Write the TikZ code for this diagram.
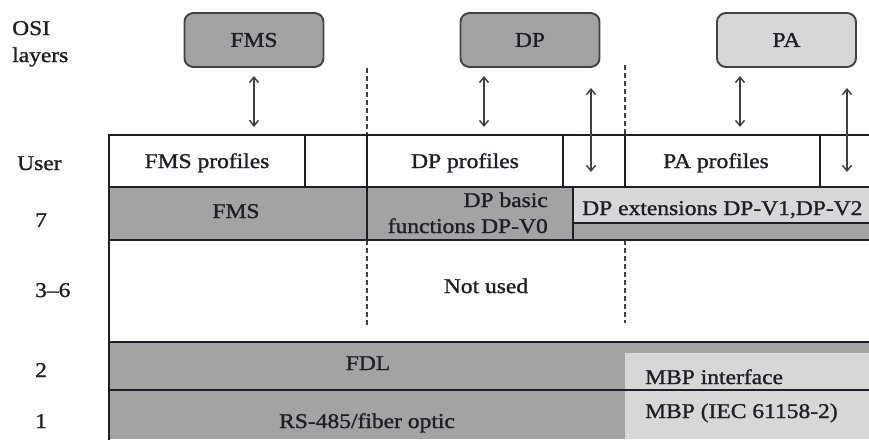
\documentclass[tikz,border=0pt]{standalone}
\usepackage{fontspec}
\setmainfont{Liberation Serif}[FakeStretch=1.12, FakeBold=1.2]
\usetikzlibrary{arrows.meta}

\definecolor{darkfill}{HTML}{A3A3A3}
\definecolor{lightfill}{HTML}{D7D7D7}
\definecolor{ink}{HTML}{1E1E28}

\begin{document}
\begin{tikzpicture}[x=1pt,y=-1pt,
  every node/.style={font=\fontsize{21}{26}\selectfont, text=ink, inner sep=0pt},
  rule/.style={draw=ink, line width=1.9pt},
  thinrule/.style={draw=ink, line width=1.4pt},
  guide/.style={draw=ink!85, line width=1.8pt, dash pattern=on 5pt off 3pt},
  topbox/.style={draw=ink!85, line width=1.9pt, rounded corners=9pt,
                 minimum width=139pt, minimum height=54pt},
  link/.style={draw=ink!85, line width=1.5pt,
               {Straight Barb[length=5.5pt,width=9pt]}-{Straight Barb[length=5.5pt,width=9pt]}},
  lbl/.style={anchor=base west},
  ctr/.style={anchor=base},
]
\useasboundingbox (0,0) rectangle (869,439);
\clip (0,0) rectangle (869,439);
\fill[white] (0,0) rectangle (869,439);

% --- shaded layer areas
\fill[darkfill] (109,187) rectangle (573,240);
\fill[lightfill] (573,187) rectangle (875,223);
\fill[darkfill] (573,223) rectangle (875,240);
\fill[darkfill] (109,342) rectangle (875,439);
\fill[lightfill] (625,353) rectangle (875,439);

% --- profile separators (dashed outside the table)
\draw[guide] (367,68) -- (367,135);
\draw[guide] (367,240) -- (367,327);
\draw[guide] (625,65) -- (625,135);
\draw[guide] (625,240) -- (625,323);

% --- table grid
\draw[rule] (109,135) -- (875,135);
\draw[rule] (109,187) -- (875,187);
\draw[rule] (109,240) -- (875,240);
\draw[rule] (109,342) -- (875,342);
\draw[rule] (109,390) -- (875,390);
\draw[rule] (109,134.1) -- (109,440);
\draw[rule] (305,135) -- (305,187);
\draw[rule] (367,135) -- (367,240);
\draw[rule] (563,135) -- (563,187);
\draw[rule] (625,135) -- (625,187);
\draw[rule] (820,135) -- (820,187);
\draw[rule] (573,187) -- (573,240);
\draw[thinrule] (573,223) -- (875,223);

% --- application boxes
\node[topbox, fill=darkfill] (fms) at (254,40) {FMS};
\node[topbox, fill=darkfill] (dp) at (530,40) {DP};
\node[topbox, fill=lightfill] (pa) at (786.5,40) {PA};

% --- arrow end points
\coordinate (fmsIn) at (254,127);
\coordinate (dpIn) at (484,127);
\coordinate (paIn) at (740,127);
\coordinate (dpTop) at (591,88);
\coordinate (dpBot) at (591,172);
\coordinate (paTop) at (847,88);
\coordinate (paBot) at (847,172);

\draw[link] ([yshift=-8pt]fms.south) -- (fmsIn);
\draw[link] ([yshift=-8pt]dp.south -| dpIn) -- (dpIn);
\draw[link] ([yshift=-8pt]pa.south -| paIn) -- (paIn);
\draw[link] (dpTop) -- (dpBot);
\draw[link] (paTop) -- (paBot);

% --- layer labels
\node[lbl] (osiA) at (12,35) {OSI};
\node[lbl] (osiB) at (12,62) {layers};
\node[lbl] (lUser) at (17,170) {User};
\node[lbl] (l7) at (35,227) {7};
\node[lbl] (l36) at (35,297) {3--6};
\node[lbl] (l2) at (35,377) {2};
\node[lbl] (l1) at (35,428) {1};

% --- cell texts
\node[ctr] (fmsProf) at (207,168) {FMS profiles};
\node[ctr] (dpProf) at (465,168) {DP profiles};
\node[ctr] (paProf) at (716,168) {PA profiles};
\node[ctr] (fms7) at (236,218) {FMS};
\node[anchor=base east] (dpBasA) at (548,207) {DP basic};
\node[anchor=base east] (dpBasB) at (548,233) {functions DP-V0};
\node[lbl] (dpExt) at (582,215) {DP extensions DP-V1,DP-V2};
\node[ctr] (unused) at (486,293) {Not used};
\node[ctr] (fdl) at (368,370) {FDL};
\node[ctr] (rs485) at (367,428) {RS-485/fiber optic};
\node[lbl] (mbpIf) at (645,384) {MBP interface};
\node[lbl] (mbp) at (645,418) {MBP (IEC 61158-2)};
\end{tikzpicture}
\end{document}
